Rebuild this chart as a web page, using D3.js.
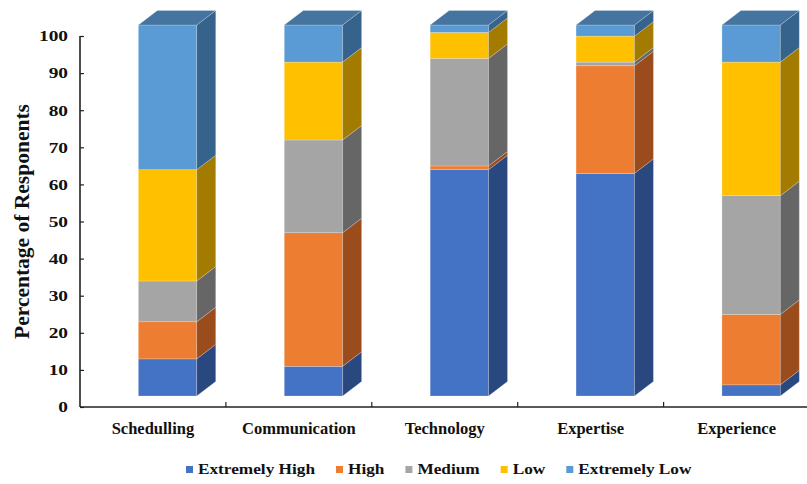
<!DOCTYPE html>
<html><head><meta charset="utf-8">
<script src="https://cdn.jsdelivr.net/npm/d3@7"></script>
<style>body{margin:0;background:#fff}svg{display:block}</style>
</head><body>
<script>
const categories = ["Schedulling","Communication","Technology","Expertise","Experience"];
const seriesNames = ["Extremely High","High","Medium","Low","Extremely Low"];
const extremelyHigh = [10, 8, 61, 60, 3];
const high          = [10, 36, 1, 29, 19];
const medium        = [11, 25, 29, 1, 32];
const low           = [30, 21, 7, 7, 36];
const extremelyLow  = [39, 10, 2, 3, 10];
const yTicks = [0,10,20,30,40,50,60,70,80,90,100];

const seriesValues = [extremelyHigh, high, medium, low, extremelyLow];
const frontColors = ["#4472C4","#ED7D31","#A5A5A5","#FFC000","#5B9BD5"];
const sideColors  = ["#2A4880","#9A4C1D","#666666","#A37B00","#36638B"];
const topColor = "#44749F";

const W = 807, H = 484;
const svg = d3.select("body").append("svg").attr("width", W).attr("height", H);
const font = "'Liberation Serif','Times New Roman',serif";

const y = d3.scaleLinear().domain([0,100]).range([407, 36]);
const x = d3.scaleBand().domain(categories).range([80, 809.5]).padding(0);
const frontDrop = 11, dx = 19, dy = 14.5;
const bw = x.bandwidth();

const rows = categories.map((c,i) => { const o = {cat:c}; seriesNames.forEach((s,j)=> o[s] = seriesValues[j][i]); return o; });
const stack = d3.stack().keys(seriesNames)(rows);

const gBars = svg.append("g");
categories.forEach((c, i) => {
  const x0 = x(c) + bw*0.4, x1 = x0 + bw*0.4;
  const g = gBars.append("g");
  stack.forEach((layer, j) => {
    const d = layer[i];
    const yb = y(d[0]) - frontDrop, yt = y(d[1]) - frontDrop;
    if (d[1] - d[0] <= 0) return;
    g.append("rect").attr("x", x0).attr("y", yt).attr("width", x1-x0).attr("height", yb-yt)
      .attr("fill", frontColors[j]).attr("stroke","#ffffff").attr("stroke-opacity",0.35).attr("stroke-width",0.6);
    g.append("path").attr("d", `M${x1},${yb}L${x1+dx},${yb-dy}L${x1+dx},${yt-dy}L${x1},${yt}Z`)
      .attr("fill", sideColors[j]).attr("stroke","#ffffff").attr("stroke-opacity",0.35).attr("stroke-width",0.6);
  });
  const top = y(stack[stack.length-1][i][1]) - frontDrop;
  g.append("path").attr("d", `M${x0},${top}L${x0+dx},${top-dy}L${x1+dx},${top-dy}L${x1},${top}Z`)
    .attr("fill", topColor).attr("stroke","#ffffff").attr("stroke-opacity",0.35).attr("stroke-width",0.6);
});

// y axis
const sx = 1.29;
const yAxis = svg.append("g").attr("transform","translate(80,0)")
  .call(d3.axisLeft(y).tickValues(yTicks).tickSize(-4).tickPadding(12).tickFormat(d3.format("d")));
yAxis.select(".domain").attr("stroke","#222").attr("stroke-width",1.6).attr("d","M0,36V407");
yAxis.selectAll(".tick line").attr("stroke","#222").attr("stroke-width",1.2);
yAxis.selectAll(".tick text").attr("font-family",font).attr("font-weight","bold").attr("font-size",15)
  .attr("fill","#111").attr("x", -12/sx).attr("transform",`scale(${sx},1)`);

// x axis
svg.append("line").attr("x1",80).attr("x2",W).attr("y1",y(0)).attr("y2",y(0)).attr("stroke","#222").attr("stroke-width",1.6);
categories.slice(1).forEach(c => {
  svg.append("line").attr("x1",x(c)).attr("x2",x(c)).attr("y1",y(0)).attr("y2",y(0)-5).attr("stroke","#222").attr("stroke-width",1.2);
});
categories.forEach(c => {
  svg.append("text").attr("x", x(c)+bw/2).attr("y", 434).attr("text-anchor","middle")
    .attr("font-family",font).attr("font-weight","bold").attr("font-size",16.5).attr("fill","#111").text(c);
});

// y label
svg.append("text").attr("transform",`translate(29,${(y(0)+y(100))/2}) rotate(-90)`).attr("text-anchor","middle")
  .attr("font-family",font).attr("font-weight","bold").attr("font-size",21.5).attr("fill","#111")
  .text("Percentage of Responents");

// legend
const lsx = 1.15;
let cx = 186;
const lg = svg.append("g");
seriesNames.forEach((s, j) => {
  lg.append("rect").attr("x", cx).attr("y", 466).attr("width",7).attr("height",7).attr("fill", frontColors[j]);
  const t = lg.append("text").attr("x", (cx+12)/lsx).attr("y", 474).attr("transform",`scale(${lsx},1)`)
    .attr("font-family",font).attr("font-weight","bold").attr("font-size",15).attr("fill","#111").text(s);
  const w = t.node().getComputedTextLength()*lsx;
  cx += 12 + w + 21;
});
</script>
</body></html>
